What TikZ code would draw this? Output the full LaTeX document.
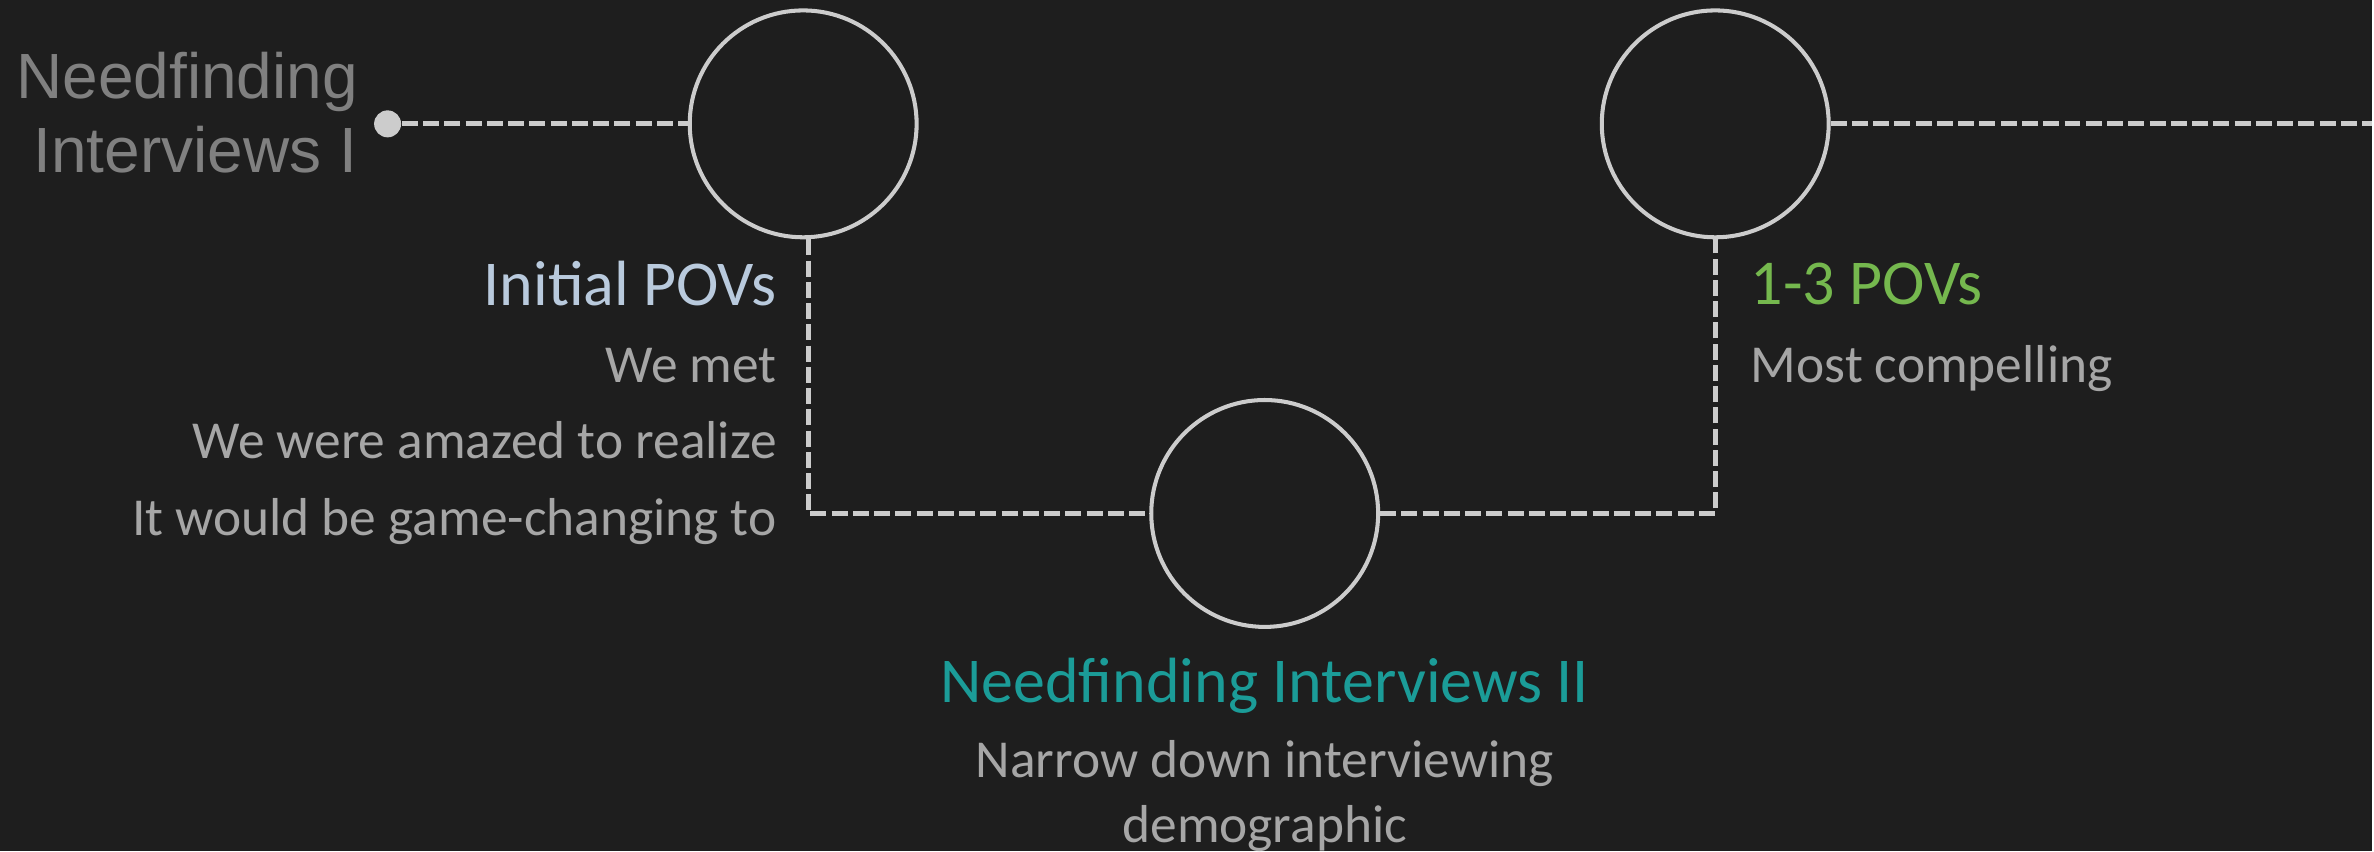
\documentclass[tikz,border=0pt]{standalone}
\usepackage{fontspec}
\setmainfont{Carlito}
\newfontfamily\arialfont{Liberation Sans}
\usetikzlibrary{positioning}

\definecolor{bgcol}{HTML}{1E1E1E}
\definecolor{linecol}{HTML}{CCCCCC}
\definecolor{stagegray}{HTML}{808080}
\definecolor{bodygray}{HTML}{A6A6A6}
\definecolor{povblue}{HTML}{B9CADD}
\definecolor{povgreen}{HTML}{75B84E}
\definecolor{teal}{HTML}{1B9C98}

\tikzset{S node/.style={circle,draw=linecol,line width=1.15pt,minimum size=2.27cm,inner sep=0pt},
	dash line/.style={draw=linecol,line width=1.4pt,dash pattern=on 4.55pt off 1.5pt},
	head text/.style={inner sep=0pt,font=\fontsize{18.2}{22}\selectfont},
	body text/.style={inner sep=0pt,text=bodygray,font=\fontsize{15.2}{18}\selectfont},}

\begin{document}
\begin{tikzpicture}[x=0.01cm,y=-0.01cm]
			\fill[bgcol] (0,0) rectangle (2374,852);

			\node[circle,fill=linecol,minimum size=0.27cm,inner sep=0pt] (start) at (388,124) {};
			\node[S node] (c1) at (804,124) {};
			\node[S node] (c2) at (1266,514) {};
			\node[S node] (c3) at (1717,124) {};
			\coordinate (end) at (2374,124);
			\coordinate (c1foot) at ([xshift=0.05cm]c1.south);

			\path[dash line]
				(start) -- (c1)
				(c1foot) |- (c2.west)
				(c2.east) -| (c3.south)
				(c3) -- (end);

			% stage labels
			\node[head text,text=stagegray,font=\arialfont\fontsize{18.2}{22}\selectfont,anchor=base east] (n1a) at (359,99) {Needfinding};
			\node[head text,text=stagegray,font=\arialfont\fontsize{18.2}{22}\selectfont,anchor=base east] (n1b) at (358,173) {Interviews I};

			\node[head text,text=povblue,anchor=base east] (p1) at (778,306) {Initial POVs};
			\node[body text,anchor=base east] (p1a) at (778,383) {We met};
			\node[body text,anchor=base east] (p1b) at (778,459) {We were amazed to realize};
			\node[body text,anchor=base east] (p1c) at (778,536) {It would be game-changing to};

			\node[head text,text=teal,anchor=base] (n2) at (1266,703) {Needfinding Interviews II};
			\node[body text,anchor=base] (n2a) at (1266,778) {Narrow down interviewing};
			\node[body text,anchor=base] (n2b) at (1266,843) {demographic};

			\node[head text,text=povgreen,anchor=base west] (p2) at (1752,305) {1-3 POVs};
			\node[body text,anchor=base west] (p2a) at (1752,383) {Most compelling};
		\end{tikzpicture}
\end{document}
